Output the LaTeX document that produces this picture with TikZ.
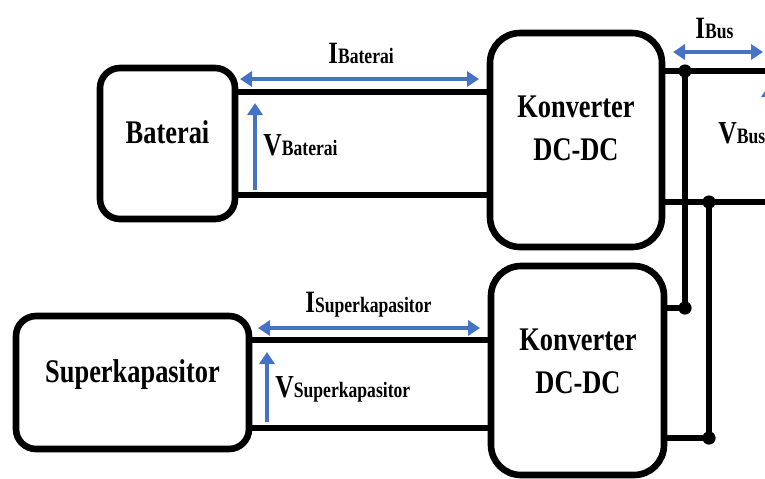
\documentclass[tikz,border=0pt]{standalone}
\usepackage{fontspec}
\setmainfont{Liberation Serif}[FakeStretch=0.8]
\usetikzlibrary{arrows.meta}
\definecolor{flowblue}{RGB}{68,114,196}
\newcommand{\arus}[1]{{\fontsize{15.5}{15.5}\selectfont I}{\fontsize{11}{11}\selectfont #1}}
\newcommand{\tegangan}[1]{{\fontsize{16}{16}\selectfont V}{\fontsize{11}{11}\selectfont #1}}

\begin{document}
\begin{tikzpicture}[x=0.5pt,y=-0.5pt,
  block/.style={draw,line width=3.3pt,rounded corners=#1,inner sep=0pt},
  wire/.style={line width=3.3pt},
  flow/.style={draw=flowblue,line width=2pt},
  >={Triangle[length=6pt,width=7.5pt]},
  boxtext/.style={font=\fontsize{16.5}{18}\selectfont\bfseries,inner sep=0pt,anchor=base},
  sym/.style={font=\bfseries,inner sep=0pt,anchor=base west}]
  \useasboundingbox (0,0) rectangle (765,478);
  \clip (0,0) rectangle (765,478);

  \node[block=10pt,minimum width=67.5pt,minimum height=75.5pt] (bat) at (167.5,143.5) {};
  \node[block=15pt,minimum width=86pt,minimum height=107pt] (konv1) at (576,140) {};
  \node[block=10pt,minimum width=116.5pt,minimum height=66.5pt] (sc) at (132.5,382.5) {};
  \node[block=15pt,minimum width=86.5pt,minimum height=104.5pt] (konv2) at (577.5,370.5) {};

  \node[boxtext] (batT) at (167.5,143) {Baterai};
  \node[boxtext] (scT) at (132.5,382) {Superkapasitor};
  \node[boxtext] (k1a) at (576,117) {Konverter};
  \node[boxtext] (k1b) at (576,160) {DC-DC};
  \node[boxtext] (k2a) at (578,350) {Konverter};
  \node[boxtext] (k2b) at (578,393) {DC-DC};

  % wire levels
  \coordinate (lvA) at (0,92);
  \coordinate (lvB) at (0,195);
  \coordinate (lvC) at (0,340);
  \coordinate (lvD) at (0,428);

  \draw[wire] (bat.east |- lvA) -- (konv1.west |- lvA);
  \draw[wire] (bat.east |- lvB) -- (konv1.west |- lvB);
  \draw[wire] (sc.east |- lvC) -- (konv2.west |- lvC);
  \draw[wire] (sc.east |- lvD) -- (konv2.west |- lvD);

  % DC bus
  \coordinate (j1) at (685,71);
  \coordinate (j2) at (709,202);
  \coordinate (j3) at (685,308);
  \coordinate (j4) at (709,438);
  \coordinate (busT) at (772,71);
  \coordinate (busB) at (772,202);

  \draw[wire] (konv1.east |- j1) -- (busT);
  \draw[wire] (konv1.east |- j2) -- (busB);
  \draw[wire] (konv2.east |- j3) -- (j3) -- (j1);
  \draw[wire] (konv2.east |- j4) -- (j4) -- (j2);
  \foreach \j in {j1,j2,j3,j4}
    \fill (\j) circle (3.3pt);

  % currents and voltages
  \coordinate (ib1) at (240,79);
  \coordinate (ib2) at (479,79);
  \coordinate (vb1) at (255,190);
  \coordinate (vb2) at (255,103);
  \coordinate (is1) at (258,328);
  \coordinate (is2) at (480,328);
  \coordinate (vs1) at (267,422);
  \coordinate (vs2) at (267,352);
  \coordinate (iu1) at (673,52);
  \coordinate (iu2) at (763,52);
  \coordinate (vu1) at (769,190);
  \coordinate (vu2) at (769,85);

  \draw[flow,<->] (ib1) -- (ib2);
  \draw[flow,->] (vb1) -- (vb2);
  \draw[flow,<->] (is1) -- (is2);
  \draw[flow,->] (vs1) -- (vs2);
  \draw[flow,<->] (iu1) -- (iu2);
  \draw[flow,->] (vu1) -- (vu2);

  \node[sym] (iBat) at (328,63) {\arus{Baterai}};
  \node[sym] (vBat) at (263,155) {\tegangan{Baterai}};
  \node[sym] (iSc) at (305,312) {\arus{Superkapasitor}};
  \node[sym] (vSc) at (275,397) {\tegangan{Superkapasitor}};
  \node[sym] (iBus) at (695,38) {\arus{Bus}};
  \node[sym] (vBus) at (718,143) {\tegangan{Bus}};
\end{tikzpicture}
\end{document}
